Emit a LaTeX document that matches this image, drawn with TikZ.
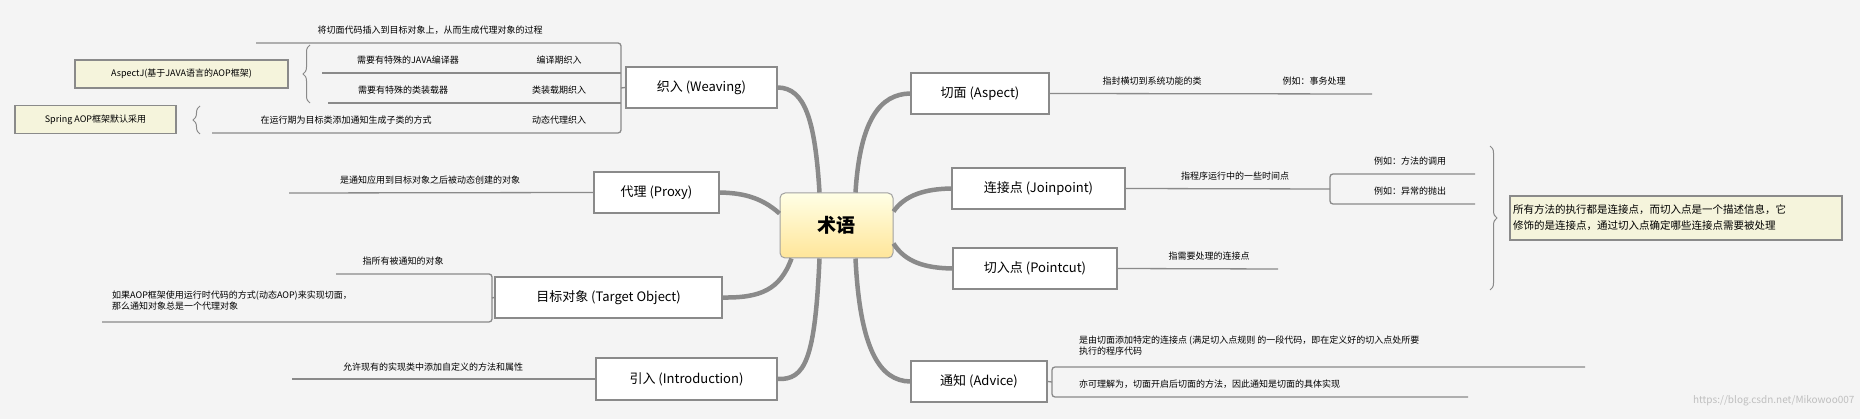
\documentclass[tikz,border=0pt]{standalone}
\usepackage{fontspec}
\setmainfont{Noto Sans CJK SC}
\usetikzlibrary{decorations.pathreplacing}
\definecolor{bg}{HTML}{F4F4F4}
\definecolor{ln}{HTML}{8A8A8A}
\definecolor{notefill}{HTML}{F5F4DC}
\begin{document}
\begin{tikzpicture}[x=1pt,y=-1pt,
 box/.style={draw=ln,line width=1.6pt,fill=white,inner sep=0pt,font=\fontsize{13}{15}\selectfont},
 note/.style={draw=ln,line width=1.2pt,fill=notefill,inner sep=0pt,font=\fontsize{9}{10}\selectfont},
 lbl/.style={font=\fontsize{9}{11}\selectfont,inner sep=1pt},
 leaf/.style={draw=ln,line width=1.3pt,rounded corners=3pt},
 branch/.style={draw=ln,line width=4.5pt},
 brc/.style={draw=ln,line width=1pt,decorate,decoration={brace,amplitude=7pt}}]
\fill[bg] (0,0) rectangle (1860,419);
% center
\node[draw=ln!80,line width=1pt,rounded corners=5pt,top color=yellow!10,bottom color=yellow!50!orange!40,minimum width=113pt,minimum height=65pt,font=\fontsize{19}{21}\selectfont\bfseries] (c) at (836.5,225.5) {术语};
% boxes
\node[box,minimum width=151pt,minimum height=41pt] (wv) at (701.5,87.5) {织入 (Weaving)};
\node[box,minimum width=125pt,minimum height=41pt] (px) at (656.5,192.5) {代理 (Proxy)};
\node[box,minimum width=227pt,minimum height=41pt] (tg) at (608.5,297.5) {目标对象 (Target Object)};
\node[box,minimum width=181pt,minimum height=42pt] (in) at (686.5,379) {引入 (Introduction)};
\node[box,minimum width=138pt,minimum height=41pt] (as) at (980,93.5) {切面 (Aspect)};
\node[box,minimum width=173pt,minimum height=41pt] (jp) at (1038.5,188.5) {连接点 (Joinpoint)};
\node[box,minimum width=164pt,minimum height=41pt] (pc) at (1035,268.5) {切入点 (Pointcut)};
\node[box,minimum width=136pt,minimum height=41pt] (ad) at (979,381.5) {通知 (Advice)};
% branches
\draw[branch] (c.north west)++(40,0) .. controls (815,120) and (805,88) .. (wv.east);
\draw[branch] (c.west)++(0,-12) .. controls (760,196) and (740,193) .. (px.east);
\draw[branch] (c.south west)++(12,0) .. controls (780,290) and (760,298) .. (tg.east);
\draw[branch] (c.south west)++(40,0) .. controls (815,360) and (805,380) .. (in.east);
\draw[branch] (c.north east)++(-38,0) .. controls (860,120) and (880,94) .. (as.west);
\draw[branch] (c.east)++(0,-14) .. controls (905,195) and (925,189) .. (jp.west);
\draw[branch] (c.east)++(0,18) .. controls (905,262) and (925,268) .. (pc.west);
\draw[branch] (c.south east)++(-38,0) .. controls (860,350) and (880,381) .. (ad.west);
% weaving leaves
\coordinate (w0) at (256,43);
\draw[leaf] (w0) -- (621,43) -- (621,133) -- (212,133);
\draw[leaf] (322,73) -- (621,73);
\draw[leaf] (328,103) -- (621,103);
\draw[leaf] (621,88) -- (wv.west);
\node[lbl] (wt) at (430,30) {将切面代码插入到目标对象上，从而生成代理对象的过程};
\node[lbl] (w1) at (408,60) {需要有特殊的JAVA编译器};
\node[lbl] (w1b) at (559,60) {编译期织入};
\node[lbl] (w2) at (403,90) {需要有特殊的类装载器};
\node[lbl] (w2b) at (559,90) {类装载期织入};
\node[lbl] (w3) at (346,120) {在运行期为目标类添加通知生成子类的方式};
\node[lbl] (w3b) at (559,120) {动态代理织入};
\draw[brc] (310,103) -- (310,45);
\draw[brc] (200,134) -- (200,106);
\node[note,minimum width=213pt,minimum height=28pt] (aj) at (181.5,74) {AspectJ(基于JAVA语言的AOP框架)};
\node[note,minimum width=161pt,minimum height=28pt] (sp) at (95.5,119.5) {Spring AOP框架默认采用};
% proxy
\draw[leaf] (289,193) -- (px.west);
\node[lbl] (pt) at (430,180) {是通知应用到目标对象之后被动态创建的对象};
% target
\draw[leaf] (336,274) -- (492,274) -- (492,322) -- (102,322);
\draw[leaf] (492,298) -- (tg.west);
\node[lbl] (t1) at (403,261) {指所有被通知的对象};
\node[lbl,anchor=west,align=left] (t2) at (111,300.5) {如果AOP框架使用运行时代码的方式(动态AOP)来实现切面，\\那么通知对象总是一个代理对象};
% intro
\draw[leaf] (292,379) -- (in.west);
\node[lbl] (it) at (433,367) {允许现有的实现类中添加自定义的方法和属性};
% aspect
\draw[leaf] (as.east) -- (1372,94);
\node[lbl] (a1) at (1152,81) {指封横切到系统功能的类};
\node[lbl] (a2) at (1314,81) {例如：事务处理};
% joinpoint
\draw[leaf] (jp.east) -- (1330,189);
\draw[leaf] (1475,174) -- (1330,174) -- (1330,204) -- (1475,204);
\node[lbl] (j1) at (1235,176) {指程序运行中的一些时间点};
\node[lbl] (j2) at (1410,161) {例如：方法的调用};
\node[lbl] (j3) at (1410,191) {例如：异常的抛出};
\draw[brc] (1490,146) -- (1490,290);
\node[note,minimum width=332pt,minimum height=44pt,text width=326pt,align=left,font=\fontsize{10.5}{16}\selectfont] (nt) at (1676,218) {所有方法的执行都是连接点，而切入点是一个描述信息，它\\修饰的是连接点，通过切入点确定哪些连接点需要被处理};
% pointcut
\draw[leaf] (pc.east) -- (1278,269);
\node[lbl] (p1) at (1209,256) {指需要处理的连接点};
% advice
\draw[leaf] (1585,367) -- (1052,367) -- (1052,397) -- (1468,397);
\draw[leaf] (ad.east) -- (1052,382);
\node[lbl,anchor=west,align=left] (d1) at (1078,345.5) {是由切面添加特定的连接点 (满足切入点规则 的一段代码，即在定义好的切入点处所要\\执行的程序代码};
\node[lbl,anchor=west] (d2) at (1078,384) {亦可理解为，切面开启后切面的方法，因此通知是切面的具体实现};
\node[font=\fontsize{10}{12}\selectfont,text=black!25,anchor=east] (wm) at (1858,401) {https://blog.csdn.net/Mikowoo007};
\end{tikzpicture}
\end{document}
